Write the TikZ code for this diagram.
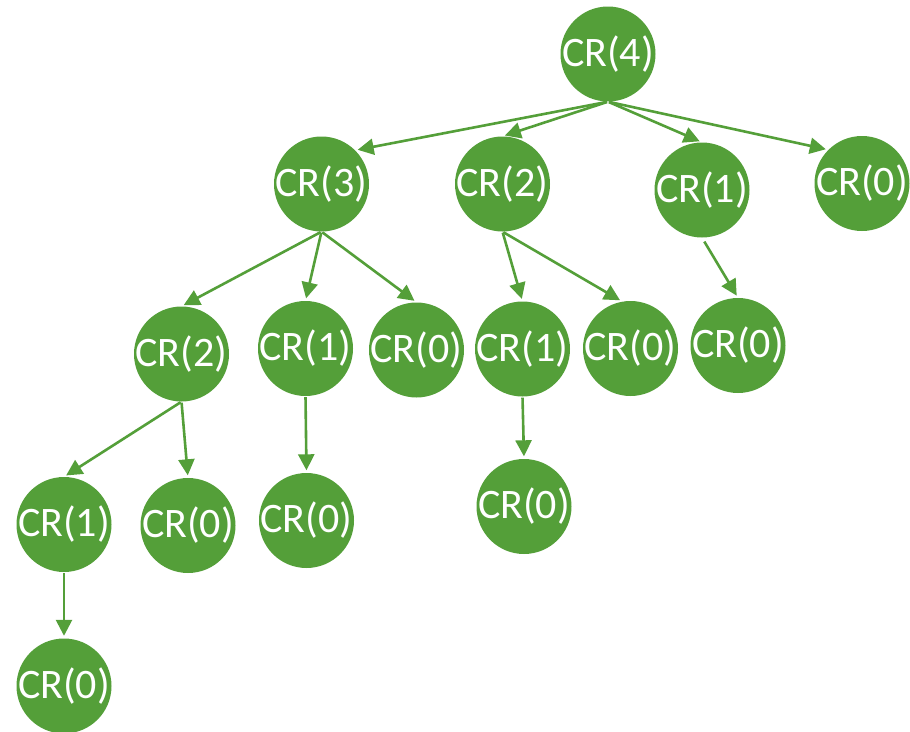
\documentclass[tikz,border=0pt]{standalone}
\usepackage{fontspec}
\setmainfont{Carlito}
\usetikzlibrary{arrows.meta}
\definecolor{crgreen}{RGB}{84,159,57}
\newcommand\crt[1]{\makebox[0pt]{CR(#1)}}
\begin{document}
\begin{tikzpicture}[x=1pt,y=-1pt,
  crnode/.style={circle,fill=crgreen,draw=none,minimum size=95pt,inner sep=0pt,
    text=white,font=\fontsize{42}{50}\selectfont},
  crarrow/.style={draw=crgreen,line width=2.6pt,
    -{Triangle[length=16pt,width=16pt]},shorten <=1pt,shorten >=2.5pt}]
\useasboundingbox (0,0) rectangle (910,731);
\node[crnode] (n4) at (608,54) {\crt{4}};
\node[crnode] (a3) at (321.5,184) {\crt{3}};
\node[crnode] (a2) at (502.5,184) {\crt{2}};
\node[crnode] (a1) at (702,190) {\crt{1}};
\node[crnode] (a0) at (862,183.5) {\crt{0}};
\node[crnode] (b2) at (181.5,354) {\crt{2}};
\node[crnode] (b1) at (305.5,348.5) {\crt{1}};
\node[crnode] (b0) at (416.5,350) {\crt{0}};
\node[crnode] (c1) at (522.5,349) {\crt{1}};
\node[crnode] (c0) at (630.5,348.5) {\crt{0}};
\node[crnode] (d0) at (738,345.5) {\crt{0}};
\node[crnode] (e1) at (64,524.5) {\crt{1}};
\node[crnode] (e0) at (188,525.5) {\crt{0}};
\node[crnode] (f0) at (306.5,520.5) {\crt{0}};
\node[crnode] (g0) at (524,506.5) {\crt{0}};
\node[crnode] (h0) at (64,686) {\crt{0}};
\draw[crarrow] (n4.south) -- (a3.north east);
\draw[crarrow] (n4.south) -- (a2.north);
\draw[crarrow] (n4.south) -- (a1.north);
\draw[crarrow] (n4.south) -- (a0.north west);
\draw[crarrow] (a3.south) -- (b2.north);
\draw[crarrow] (a3.south) -- (b1.north);
\draw[crarrow] (a3.south) -- (b0.north);
\draw[crarrow] (a2.south) -- (c1.north);
\draw[crarrow] (a2.south) -- (c0.100);
\draw[crarrow,shorten <=4.5pt] (a1.south) -- (d0.north);
\draw[crarrow] (b2.south) -- (e1.north);
\draw[crarrow] (b2.south) -- (e0.north);
\draw[crarrow] (b1.south) -- (f0.north);
\draw[crarrow] (c1.south) -- (g0.north);
\draw[crarrow] (e1.south) -- (h0.north);
\end{tikzpicture}
\end{document}
